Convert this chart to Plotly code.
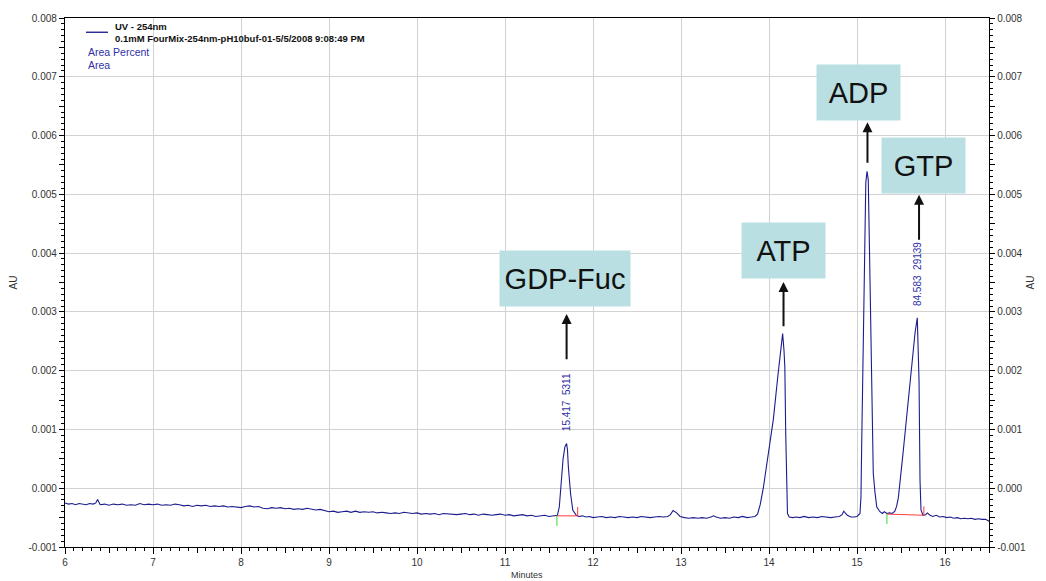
import plotly.graph_objects as go

# ---------------- data ----------------
time_min = [
    6.00, 6.04, 6.08, 6.12, 6.16, 6.20, 6.24, 6.28, 6.32, 6.35,
    6.37, 6.40, 6.45, 6.50, 6.55, 6.60, 6.65, 6.70, 6.75, 6.80,
    6.85, 6.90, 6.95, 7.00, 7.05, 7.10, 7.15, 7.20, 7.25, 7.30,
    7.35, 7.40, 7.45, 7.50, 7.55, 7.60, 7.65, 7.70, 7.75, 7.80,
    7.85, 7.90, 7.95, 8.00, 8.05, 8.10, 8.15, 8.20, 8.25, 8.30,
    8.35, 8.40, 8.45, 8.50, 8.55, 8.60, 8.65, 8.70, 8.75, 8.80,
    8.85, 8.90, 8.95, 9.00, 9.05, 9.10, 9.15, 9.20, 9.25, 9.30,
    9.35, 9.40, 9.45, 9.50, 9.55, 9.60, 9.65, 9.70, 9.75, 9.80,
    9.85, 9.90, 9.95, 10.00, 10.05, 10.10, 10.15, 10.20, 10.25, 10.30,
    10.35, 10.40, 10.45, 10.50, 10.55, 10.60, 10.65, 10.70, 10.75, 10.80,
    10.85, 10.90, 10.95, 11.00, 11.05, 11.10, 11.15, 11.20, 11.25, 11.30,
    11.35, 11.40, 11.45, 11.50, 11.55,
    11.595, 11.617, 11.64, 11.66, 11.68, 11.70, 11.71, 11.72, 11.745, 11.77, 11.81, 11.84,
    11.88, 11.92, 11.96, 12.00, 12.05, 12.10, 12.15, 12.20, 12.25, 12.30,
    12.35, 12.40, 12.45, 12.50, 12.55, 12.60, 12.65, 12.70, 12.75, 12.80,
    12.85, 12.88, 12.91, 12.95, 12.99, 13.04, 13.09, 13.14, 13.19, 13.24,
    13.29, 13.34, 13.37, 13.40, 13.45, 13.50, 13.55, 13.60, 13.65, 13.70,
    13.75, 13.80, 13.84,
    13.87, 13.90, 13.935, 13.99, 14.05, 14.10, 14.13, 14.155, 14.17, 14.18, 14.19, 14.21, 14.23,
    14.27, 14.31, 14.35, 14.40, 14.45, 14.50, 14.55, 14.60, 14.65, 14.70,
    14.75, 14.80, 14.83, 14.85, 14.89, 14.93, 14.97, 15.00,
    15.034, 15.045, 15.053, 15.07, 15.09, 15.10, 15.114, 15.128, 15.148, 15.167, 15.185, 15.205, 15.225, 15.26,
    15.29, 15.31, 15.34, 15.37, 15.40,
    15.43, 15.45, 15.47, 15.49, 15.52, 15.55, 15.583, 15.62, 15.66, 15.685, 15.705, 15.716, 15.727, 15.75,
    15.78, 15.80, 15.83, 15.86, 15.90, 15.94, 15.98, 16.02, 16.06, 16.10,
    16.14, 16.18, 16.22, 16.26, 16.30, 16.34, 16.38, 16.42, 16.46, 16.50,
]

absorbance_au = [
    -2.5e-4, -2.7e-4, -2.6e-4, -2.8e-4, -2.6e-4, -2.7e-4, -2.8e-4, -2.6e-4, -2.7e-4, -2.5e-4,
    -1.9e-4, -2.8e-4, -2.7e-4, -2.9e-4, -2.7e-4, -2.8e-4, -2.7e-4, -2.9e-4, -2.8e-4, -2.9e-4,
    -2.6e-4, -2.8e-4, -2.7e-4, -2.8e-4, -2.7e-4, -2.9e-4, -2.8e-4, -2.9e-4, -2.7e-4, -2.8e-4,
    -3.0e-4, -2.9e-4, -3.1e-4, -2.9e-4, -3.0e-4, -2.9e-4, -3.1e-4, -3.0e-4, -3.1e-4, -3.0e-4,
    -3.2e-4, -3.1e-4, -3.2e-4, -3.3e-4, -3.1e-4, -3.0e-4, -3.2e-4, -3.1e-4, -3.4e-4, -3.5e-4,
    -3.3e-4, -3.4e-4, -3.3e-4, -3.5e-4, -3.4e-4, -3.6e-4, -3.5e-4, -3.6e-4, -3.4e-4, -3.6e-4,
    -3.7e-4, -3.6e-4, -3.8e-4, -4.0e-4, -3.9e-4, -4.1e-4, -4.0e-4, -3.9e-4, -4.1e-4, -3.9e-4,
    -4.1e-4, -4.0e-4, -4.1e-4, -4.0e-4, -4.2e-4, -4.1e-4, -4.2e-4, -4.3e-4, -4.2e-4, -4.3e-4,
    -4.1e-4, -4.2e-4, -4.3e-4, -4.2e-4, -4.4e-4, -4.3e-4, -4.4e-4, -4.3e-4, -4.5e-4, -4.3e-4,
    -4.4e-4, -4.4e-4, -4.5e-4, -4.4e-4, -4.3e-4, -4.5e-4, -4.4e-4, -4.6e-4, -4.4e-4, -4.5e-4,
    -4.6e-4, -4.5e-4, -4.4e-4, -4.6e-4, -4.5e-4, -4.7e-4, -4.6e-4, -4.5e-4, -4.7e-4, -4.6e-4,
    -4.8e-4, -4.7e-4, -4.6e-4, -4.8e-4, -4.7e-4,
    -4.6e-4, -3.2e-4, 1.4e-4, 5.0e-4, 7.0e-4, 7.6e-4, 6.5e-4, 3.6e-4, -0.9e-4, -3.7e-4, -4.6e-4, -4.8e-4,
    -4.7e-4, -4.9e-4, -4.8e-4, -5.0e-4, -4.9e-4, -4.8e-4, -5.0e-4, -4.9e-4, -5.0e-4, -4.8e-4,
    -4.9e-4, -5.0e-4, -4.9e-4, -5.0e-4, -4.8e-4, -4.9e-4, -5.0e-4, -4.9e-4, -4.8e-4, -4.9e-4,
    -4.8e-4, -4.5e-4, -3.8e-4, -4.2e-4, -4.8e-4, -5.0e-4, -5.1e-4, -5.0e-4, -5.1e-4, -5.0e-4,
    -5.1e-4, -4.9e-4, -4.7e-4, -4.9e-4, -5.1e-4, -5.0e-4, -5.1e-4, -4.9e-4, -5.0e-4, -4.8e-4,
    -5.0e-4, -4.9e-4, -4.8e-4,
    -4.4e-4, -2.8e-4, 0.0, 5.8e-4, 11.8e-4, 19.0e-4, 23.0e-4, 26.3e-4, 23.5e-4, 20.6e-4, 9.3e-4, -4.3e-4, -4.9e-4,
    -5.0e-4, -4.9e-4, -5.0e-4, -4.8e-4, -5.0e-4, -4.9e-4, -5.0e-4, -4.8e-4, -4.9e-4, -5.0e-4,
    -4.9e-4, -4.8e-4, -4.5e-4, -3.9e-4, -4.6e-4, -4.9e-4, -4.9e-4, -4.8e-4,
    -4.3e-4, -1.5e-4, 7.0e-4, 24.0e-4, 41.0e-4, 52.0e-4, 53.9e-4, 52.5e-4, 35.3e-4, 18.3e-4, 2.5e-4, -0.8e-4, -3.2e-4, -4.0e-4,
    -4.3e-4, -4.0e-4, -4.3e-4, -4.2e-4, -4.3e-4,
    -3.9e-4, -3.1e-4, -1.6e-4, 1.0e-4, 5.5e-4, 10.0e-4, 15.0e-4, 21.0e-4, 26.5e-4, 29.0e-4, 18.3e-4, 1.4e-4, -3.7e-4, -4.6e-4,
    -4.5e-4, -4.2e-4, -4.6e-4, -4.8e-4, -4.6e-4, -4.9e-4, -4.8e-4, -5.0e-4, -4.9e-4, -5.1e-4,
    -5.0e-4, -5.2e-4, -5.1e-4, -5.2e-4, -5.1e-4, -5.3e-4, -5.2e-4, -5.3e-4, -5.3e-4, -5.6e-4,
]

# named peaks
peak_names = ["GDP-Fuc", "ATP", "ADP", "GTP"]
peak_times = [11.70, 14.165, 15.119, 15.705]

# integrated peaks (area percent / area labels)
int_peak_times = [11.70, 15.685]
int_peak_apex = [7.6e-4, 29.0e-4]
int_peak_labels = ["15.417  5311", "84.583  29139"]
int_start_t = [11.59, 15.34]
int_end_t = [11.826, 15.76]
int_start_au = [-4.7e-4, -4.4e-4]
int_end_au = [-4.7e-4, -4.6e-4]

x_tick_vals = [6, 7, 8, 9, 10, 11, 12, 13, 14, 15, 16]
x_tick_labels = ["6", "7", "8", "9", "10", "11", "12", "13", "14", "15", "16"]
y_tick_vals = [-0.001, 0.0, 0.001, 0.002, 0.003, 0.004, 0.005, 0.006, 0.007, 0.008]
y_tick_labels = ["-0.001", "0.000", "0.001", "0.002", "0.003", "0.004",
                 "0.005", "0.006", "0.007", "0.008"]

# ---------------- styling / layout constants ----------------
LINE_COLOR = "#1c1c8e"
LABEL_BLUE = "#2f2fa8"
BOX_COLOR = "#b9dfe3"
GRID = "#d2d2d2"
TICK_FONT = dict(family="Liberation Sans, Arial", size=10, color="#333333")
XR = [6, 16.5]
YR = [-0.001, 0.008]

# label boxes: (centre x, centre y, width px, arrow head y, arrow tail y)
box_layout = {
    "GDP-Fuc": (11.682, 0.003568, 130, 0.002966, 0.00217),
    "ATP": (14.165, 0.004042, 83, 0.003508, 0.00273),
    "ADP": (15.017, 0.006737, 83, 0.006227, 0.00551),
    "GTP": (15.75, 0.005483, 83, 0.004992, 0.00420),
}

fig = go.Figure()
fig.add_trace(go.Scatter(x=time_min, y=absorbance_au, mode="lines",
                         line=dict(color=LINE_COLOR, width=1.1),
                         hoverinfo="skip", showlegend=False))
# helper traces so that overlay axes are drawn
fig.add_trace(go.Scatter(x=[None], y=[None], xaxis="x2", yaxis="y", showlegend=False))
fig.add_trace(go.Scatter(x=[None], y=[None], xaxis="x", yaxis="y2", showlegend=False))
fig.add_trace(go.Scatter(x=[None], y=[None], xaxis="x", yaxis="y3", showlegend=False))
fig.add_trace(go.Scatter(x=[None], y=[None], xaxis="x", yaxis="y4", showlegend=False))

shapes = []
TICK_DOWN = 0.00017
TICK_UP = 0.00015
for ts, te, ys, ye in zip(int_start_t, int_end_t, int_start_au, int_end_au):
    shapes.append(dict(type="line", xref="x", yref="y", x0=ts, x1=te, y0=ys, y1=ye,
                       line=dict(color="#ff3b3b", width=1)))
    shapes.append(dict(type="line", xref="x", yref="y", x0=ts, x1=ts, y0=ys, y1=ys - TICK_DOWN,
                       line=dict(color="#33dd33", width=1)))
    shapes.append(dict(type="line", xref="x", yref="y", x0=te, x1=te, y0=ye, y1=ye + TICK_UP,
                       line=dict(color="#ff3b3b", width=1)))
# legend line sample
shapes.append(dict(type="line", xref="paper", yref="paper", x0=0.0227, x1=0.0465,
                   y0=0.9731, y1=0.9731, line=dict(color="#000080", width=1.2)))

annotations = []
for name, t in zip(peak_names, peak_times):
    cx, cy, w, head, tail = box_layout[name]
    annotations.append(dict(x=cx, y=cy, xref="x", yref="y", text=name, showarrow=False,
                            bgcolor=BOX_COLOR, width=w, height=55, borderpad=0,
                            font=dict(family="Liberation Sans, Arial", size=29, color="#111111")))
    annotations.append(dict(x=t, y=head, ax=t, ay=tail, xref="x", yref="y", axref="x", ayref="y",
                            text="", showarrow=True, arrowhead=2, arrowsize=1, arrowwidth=2,
                            arrowcolor="#111111", standoff=0, startstandoff=0))

for t, apex, lab in zip(int_peak_times, int_peak_apex, int_peak_labels):
    annotations.append(dict(x=t, y=apex, xref="x", yref="y", text=lab, showarrow=False,
                            textangle=-90, yanchor="bottom", xanchor="center", yshift=10,
                            font=dict(family="Liberation Sans, Arial", size=10, color=LABEL_BLUE)))

legend_font_b = dict(family="Liberation Sans, Arial", size=9.5, color="#111111")
legend_font_r = dict(family="Liberation Sans, Arial", size=10.5, color=LABEL_BLUE)
annotations += [
    dict(x=0.0519, y=0.9831, xref="paper", yref="paper", text="<b>UV - 254nm</b>",
         showarrow=False, xanchor="left", yanchor="middle", font=legend_font_b),
    dict(x=0.0519, y=0.9605, xref="paper", yref="paper",
         text="<b>0.1mM FourMix-254nm-pH10buf-01-5/5/2008 9:08:49 PM</b>",
         showarrow=False, xanchor="left", yanchor="middle", font=legend_font_b),
    dict(x=0.0227, y=0.9361, xref="paper", yref="paper", text="Area Percent",
         showarrow=False, xanchor="left", yanchor="middle", font=legend_font_r),
    dict(x=0.0227, y=0.9117, xref="paper", yref="paper", text="Area",
         showarrow=False, xanchor="left", yanchor="middle", font=legend_font_r),
    dict(x=-0.0552, y=0.5, xref="paper", yref="paper", text="AU", textangle=-90,
         showarrow=False, xanchor="center", yanchor="middle", font=TICK_FONT),
    dict(x=1.0444, y=0.5, xref="paper", yref="paper", text="AU", textangle=-90,
         showarrow=False, xanchor="center", yanchor="middle", font=TICK_FONT),
    dict(x=0.5, y=-0.0526, xref="paper", yref="paper", text="Minutes",
         showarrow=False, xanchor="center", yanchor="middle",
         font=dict(family="Liberation Sans, Arial", size=9, color="#333333")),
]

fig.update_layout(
    width=1046, height=581,
    margin=dict(l=65, r=57, t=15, b=34),
    paper_bgcolor="white", plot_bgcolor="white",
    showlegend=False,
    shapes=shapes, annotations=annotations,
    xaxis=dict(range=XR, tickvals=x_tick_vals, ticktext=x_tick_labels,
               ticks="outside", ticklen=6, tickcolor="black", tickwidth=1,
               minor=dict(dtick=0.1, ticks="outside", ticklen=3, tickcolor="black", showgrid=False),
               showgrid=True, gridcolor=GRID, gridwidth=1.3,
               showline=True, linecolor="black", linewidth=1.3, mirror=True,
               zeroline=False, tickfont=TICK_FONT),
    xaxis2=dict(range=XR, overlaying="x", anchor="y", dtick=0.5, tick0=0,
                ticks="outside", ticklen=5, tickcolor="black", showticklabels=False,
                showgrid=False, zeroline=False, showline=False),
    yaxis=dict(range=YR, tickvals=y_tick_vals, ticktext=y_tick_labels,
               ticks="outside", ticklen=5, tickcolor="black",
               minor=dict(dtick=0.0001, tick0=0, ticks="outside", ticklen=3, tickcolor="black", showgrid=False),
               showgrid=True, gridcolor=GRID, gridwidth=1.3,
               showline=True, linecolor="black", linewidth=1.3,
               zeroline=False, tickfont=TICK_FONT),
    yaxis2=dict(range=YR, overlaying="y", side="right", anchor="x",
                tickvals=y_tick_vals, ticktext=y_tick_labels,
                ticks="outside", ticklen=5, tickcolor="black",
                minor=dict(dtick=0.0001, tick0=0, ticks="outside", ticklen=3, tickcolor="black", showgrid=False),
                showgrid=False, showline=True, linecolor="black", linewidth=1.3,
                zeroline=False, tickfont=TICK_FONT),
    yaxis3=dict(range=YR, overlaying="y", side="left", anchor="x", dtick=0.0005, tick0=0,
                ticks="outside", ticklen=5, tickcolor="black", showticklabels=False,
                showgrid=False, zeroline=False, showline=False),
    yaxis4=dict(range=YR, overlaying="y", side="right", anchor="x", dtick=0.0005, tick0=0,
                ticks="outside", ticklen=5, tickcolor="black", showticklabels=False,
                showgrid=False, zeroline=False, showline=False),
)

assert len(time_min) == len(absorbance_au)
fig.write_html("out.html")
